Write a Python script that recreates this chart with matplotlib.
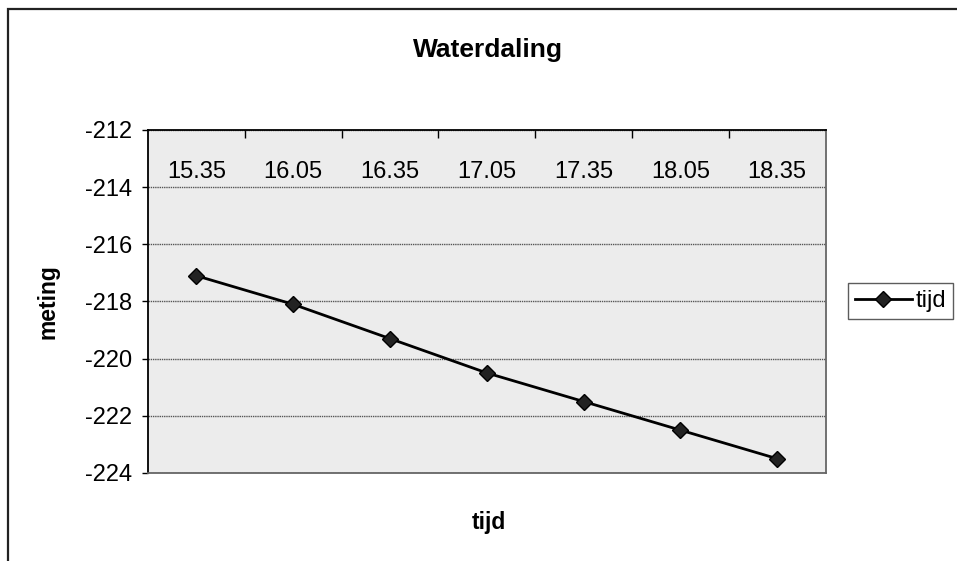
import numpy as np
import matplotlib.pyplot as plt
from matplotlib.patches import Rectangle

plt.rcParams['font.family'] = ['Liberation Sans', 'DejaVu Sans']

tijden = ['15.35', '16.05', '16.35', '17.05', '17.35', '18.05', '18.35']
meting = [-217.1, -218.1, -219.3, -220.5, -221.5, -222.5, -223.5]
y_ticks = [-212, -214, -216, -218, -220, -222, -224]

fig = plt.figure(figsize=(9.57, 5.61), dpi=100)
ax = fig.add_axes([0.1547, 0.1569, 0.708, 0.6114])
ax.set_facecolor('#ececec')

x = np.arange(len(tijden))
ax.plot(x, meting, color='black', lw=2, marker='D', markersize=8.5,
        markerfacecolor='#222222', markeredgecolor='black', label='tijd', zorder=3)

ax.set_xlim(-0.5, len(tijden) - 0.5)
ax.set_ylim(-224, -212)
ax.set_yticks(y_ticks)
ax.set_yticklabels([str(v) for v in y_ticks])
ax.yaxis.grid(True, color='#555555', lw=1.0, linestyle=(0, (1, 0.6)))
ax.tick_params(axis='y', direction='out', length=4.5, width=1, labelsize=17, pad=7)

# category axis sits at the top, labels inside the plot area
ax.xaxis.tick_top()
ax.set_xticks(np.arange(0.5, len(tijden) - 0.5, 1))
ax.set_xticklabels([])
ax.tick_params(axis='x', which='major', direction='in', length=6, width=1,
               top=True, bottom=False)
ax.set_xticks(x, minor=True)
ax.set_xticklabels(tijden, minor=True)
ax.tick_params(axis='x', which='minor', length=0, top=True, bottom=False,
               labeltop=True, labelbottom=False, labelsize=17, pad=-38)

for side in ['left', 'top']:
    ax.spines[side].set_color('black')
    ax.spines[side].set_linewidth(1.3)
for side in ['right', 'bottom']:
    ax.spines[side].set_color('#666666')
    ax.spines[side].set_linewidth(1.3)

ax.set_ylabel('meting', fontsize=16.5, fontweight='bold', labelpad=18)
fig.text(0.5105, 0.069, 'tijd', fontsize=16.5, fontweight='bold', ha='center', va='center')
fig.text(0.51, 0.91, 'Waterdaling', fontsize=19, fontweight='bold', ha='center', va='center')

leg = fig.legend(loc='center left', bbox_to_anchor=(0.886, 0.4635), fontsize=17,
                 frameon=True, fancybox=False, handlelength=2.4, borderpad=0.3,
                 handletextpad=0.15, borderaxespad=0)
leg.get_frame().set_edgecolor('#333333')
leg.get_frame().set_linewidth(1.0)

# chart border (only top and left are inside the scan)
fig.add_artist(Rectangle((0.0084, -0.1), 1.2, 1.1 - 0.016, transform=fig.transFigure,
                         fill=False, edgecolor='#222222', lw=1.6))

fig.savefig('out.png', dpi=100)
